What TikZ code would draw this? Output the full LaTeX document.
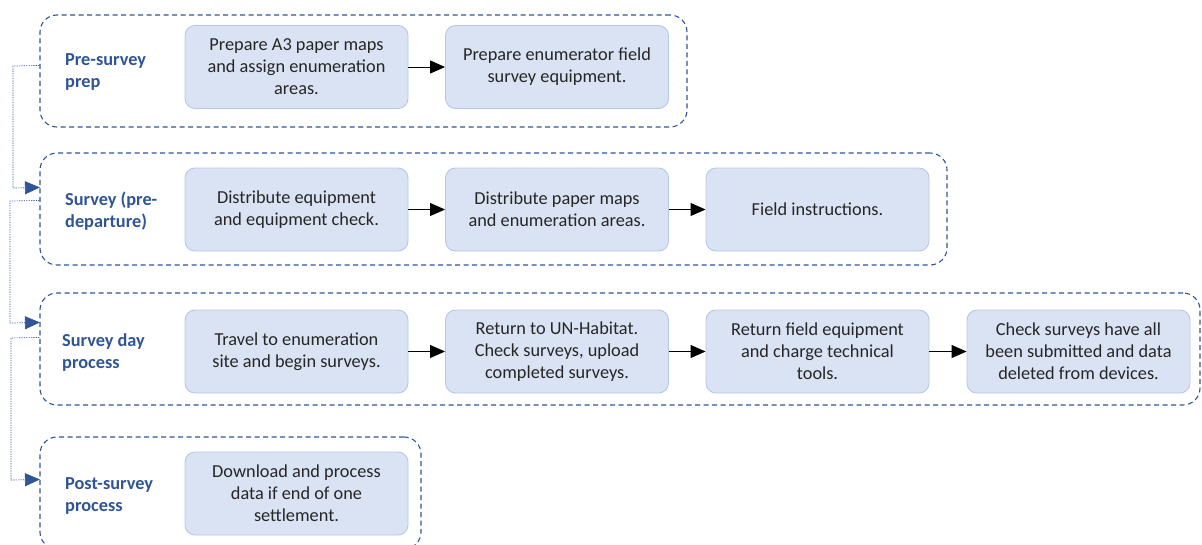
\documentclass[tikz,border=0pt]{standalone}
\usepackage{fontspec}
\setmainfont{Carlito}
\usetikzlibrary{arrows.meta,positioning,calc}
\definecolor{grpblue}{HTML}{2F5597}
\definecolor{boxfill}{HTML}{DAE3F3}
\definecolor{boxline}{HTML}{B4C7E7}
\definecolor{txt}{HTML}{262626}
\tikzset{
  grp/.style={draw=grpblue, line width=1.1pt, dash pattern=on 5pt off 3.5pt,
    rounded corners=17pt, minimum width=#1, minimum height=112pt, inner sep=0pt},
  box/.style={draw=boxline, fill=boxfill, line width=0.9pt, rounded corners=10pt,
    minimum width=223pt, minimum height=83pt, align=center, text=txt,
    font=\fontsize{18.3}{22}\selectfont, inner sep=0pt},
  lbl/.style={anchor=west, align=left, text=grpblue,
    font=\fontsize{18.3}{22}\selectfont\bfseries, inner sep=0pt},
  flow/.style={draw=black, line width=0.9pt, -{Triangle[length=15pt,width=13pt]}},
  conn/.style={draw=grpblue, line width=0.7pt, dash pattern=on 1.2pt off 1.2pt,
    -{Triangle[length=15pt,width=13pt]}, shorten >=-0.5pt}
}
\begin{document}
\begin{tikzpicture}[x=1pt,y=-1pt]
\useasboundingbox (0,0) rectangle (1202,544);

% phase frames
\node[grp=647pt] (g1) at (363.5,71) {};
\node[grp=907pt] (g2) at (493.5,209) {};
\node[grp=1160pt] (g3) at (620,349) {};
\node[grp=381pt] (g4) at (230.5,493) {};

% phase titles
\node[lbl] (l1) at (65,72) {Pre-survey\\prep};
\node[lbl] (l2) at (65,211) {Survey (pre-\\departure)};
\node[lbl] (l3) at (62,353) {Survey day\\process};
\node[lbl] (l4) at (65,496) {Post-survey\\process};

% steps
\node[box] (b11) at (296.5,67) {Prepare A3 paper maps\\and assign enumeration\\areas.};
\node[box] (b12) at (557,67) {Prepare enumerator field\\survey equipment.};

\node[box] (b21) at (296.5,209.5) {Distribute equipment\\and equipment check.};
\node[box] (b22) at (557,209.5) {Distribute paper maps\\and enumeration areas.};
\node[box] (b23) at (817.5,209.5) {Field instructions.};

\node[box] (b31) at (296.5,351.5) {Travel to enumeration\\site and begin surveys.};
\node[box] (b32) at (557,351.5) {Return to UN-Habitat.\\Check surveys, upload\\completed surveys.};
\node[box] (b33) at (817.5,351.5) {Return field equipment\\and charge technical\\tools.};
\node[box] (b34) at (1078.5,351.5) {Check surveys have all\\been submitted and data\\deleted from devices.};

\node[box] (b41) at (296.5,493.5) {Download and process\\data if end of one\\settlement.};

% flow within phases
\draw[flow] (b11) -- (b12);
\draw[flow] (b21) -- (b22);
\draw[flow] (b22) -- (b23);
\draw[flow] (b31) -- (b32);
\draw[flow] (b32) -- (b33);
\draw[flow] (b33) -- (b34);

% links between phases
\coordinate (c1s) at ($(g1.north west)+(0,51)$);
\coordinate (c1e) at ($(g2.north west)+(0,35)$);
\coordinate (c2s) at ($(g2.north west)+(0,48)$);
\coordinate (c2e) at ($(g3.north west)+(0,30)$);
\coordinate (c3s) at ($(g3.north west)+(0,45)$);
\coordinate (c3e) at ($(g4.north west)+(0,43)$);
\draw[conn] (c1s) -- (13,66) -- (13,188) -- (c1e);
\draw[conn] (c2s) -- (10,201) -- (10,323) -- (c2e);
\draw[conn] (c3s) -- (11,338) -- (11,480) -- (c3e);
\end{tikzpicture}
\end{document}
